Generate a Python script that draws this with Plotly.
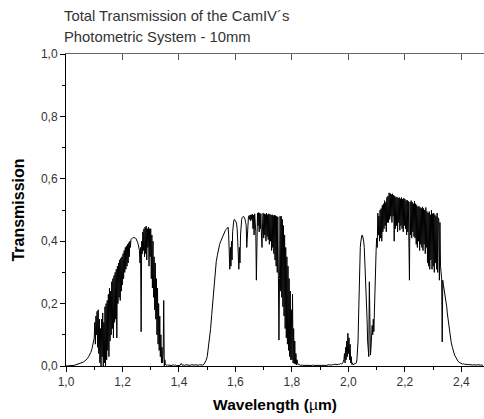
import numpy as np
import plotly.graph_objects as go

# Each segment of the measured spectrum: start wavelength (µm), sampling step (µm), values

# J band rise
seg_j_rise_start, seg_j_rise_step = 1.000, 0.004
seg_j_rise = [
    0.000, 0.000, 0.000, 0.000, 0.001, 0.001, 0.002, 0.002, 0.003, 0.004,
    0.005, 0.006, 0.007, 0.009, 0.010, 0.012, 0.014, 0.017, 0.020, 0.024,
    0.030, 0.036, 0.044, 0.055, 0.070,
]

# J band, noisy part
seg_j_start, seg_j_step = 1.100, 0.002
seg_j = [
    0.090, 0.140, 0.070, 0.160, 0.100, 0.175, 0.060, 0.180, 0.040, 0.150,
    0.010, 0.120, 0.000, 0.150, 0.030, 0.170, 0.000, 0.140, 0.010, 0.190,
    0.000, 0.200, 0.020, 0.210, 0.050, 0.230, 0.030, 0.250, 0.080, 0.240,
    0.100, 0.270, 0.120, 0.280, 0.090, 0.290, 0.140, 0.300, 0.150, 0.310,
    0.090, 0.320, 0.200, 0.330, 0.220, 0.340, 0.210, 0.345, 0.240, 0.350,
    0.260, 0.360, 0.280, 0.370, 0.300, 0.380, 0.310, 0.385, 0.320, 0.390,
    0.330, 0.395, 0.350, 0.400, 0.380, 0.405, 0.408, 0.410, 0.411, 0.412,
    0.412, 0.412, 0.411, 0.410, 0.408, 0.405, 0.400, 0.395, 0.388, 0.380,
    0.370, 0.330, 0.380, 0.110, 0.400, 0.360, 0.430, 0.370, 0.440, 0.350,
    0.445, 0.360, 0.448, 0.340, 0.440, 0.380, 0.445, 0.320, 0.440, 0.350,
    0.440, 0.280, 0.420, 0.250, 0.400, 0.220, 0.350, 0.180, 0.330, 0.150,
    0.280, 0.100, 0.250, 0.070, 0.200, 0.050, 0.160, 0.030, 0.100, 0.010,
    0.060, 0.010, 0.040, 0.210, 0.000, 0.020, 0.005, 0.003, 0.004, 0.002,
]

# gap between J and H
seg_gap1_start, seg_gap1_step = 1.360, 0.004
seg_gap1 = [
    0.004, 0.002, 0.003, 0.001, 0.002, 0.004, 0.002, 0.003, 0.001, 0.002,
    0.003, 0.002, 0.008, 0.002, 0.003, 0.002, 0.004, 0.003, 0.002, 0.003,
    0.002, 0.004, 0.003, 0.002, 0.003, 0.004, 0.003, 0.002, 0.004, 0.003,
]

# H band rise
seg_h_rise_start, seg_h_rise_step = 1.480, 0.004
seg_h_rise = [
    0.002, 0.003, 0.005, 0.010, 0.018, 0.030, 0.055, 0.085, 0.120, 0.165,
    0.210, 0.260, 0.300, 0.335, 0.355, 0.375, 0.390, 0.400, 0.410, 0.420,
]

# H band, noisy part
seg_h_start, seg_h_step = 1.560, 0.002
seg_h = [
    0.430, 0.432, 0.434, 0.437, 0.440, 0.442, 0.444, 0.445, 0.420, 0.360,
    0.310, 0.380, 0.320, 0.400, 0.340, 0.430, 0.455, 0.465, 0.470, 0.468,
    0.466, 0.462, 0.455, 0.440, 0.400, 0.360, 0.310, 0.380, 0.330, 0.420,
    0.460, 0.470, 0.476, 0.478, 0.480, 0.478, 0.475, 0.470, 0.460, 0.450,
    0.380, 0.420, 0.460, 0.478, 0.482, 0.470, 0.484, 0.465, 0.485, 0.470,
    0.486, 0.440, 0.484, 0.420, 0.488, 0.450, 0.430, 0.275, 0.470, 0.490,
    0.450, 0.492, 0.430, 0.490, 0.440, 0.488, 0.420, 0.380, 0.460, 0.490,
    0.410, 0.488, 0.420, 0.486, 0.400, 0.490, 0.415, 0.485, 0.405, 0.488,
    0.390, 0.486, 0.400, 0.484, 0.370, 0.485, 0.380, 0.482, 0.360, 0.484,
    0.340, 0.482, 0.320, 0.480, 0.300, 0.478, 0.290, 0.083, 0.280, 0.480,
    0.240, 0.480, 0.220, 0.470, 0.190, 0.450, 0.160, 0.420, 0.120, 0.380,
    0.090, 0.350, 0.070, 0.320, 0.050, 0.280, 0.030, 0.240, 0.020, 0.180,
    0.020, 0.230, 0.010, 0.120, 0.008, 0.080, 0.006, 0.040, 0.004, 0.020,
    0.010, 0.004, 0.006, 0.003, 0.004, 0.002, 0.003, 0.002, 0.003, 0.002,
]

# gap between H and K
seg_gap2_start, seg_gap2_step = 1.840, 0.004
seg_gap2 = [
    0.002, 0.003, 0.002, 0.004, 0.002, 0.003, 0.002, 0.001, 0.003, 0.002,
    0.002, 0.003, 0.002, 0.001, 0.002, 0.003, 0.002, 0.002, 0.003, 0.002,
    0.003, 0.002, 0.004, 0.003, 0.002, 0.003, 0.005, 0.004, 0.006, 0.005,
    0.004, 0.006, 0.005, 0.008, 0.006,
]

# K band, noisy part
seg_k_start, seg_k_step = 1.980, 0.002
seg_k = [
    0.010, 0.015, 0.020, 0.040, 0.010, 0.060, 0.020, 0.080, 0.030, 0.105,
    0.040, 0.090, 0.020, 0.070, 0.010, 0.030, 0.005, 0.010, 0.004, 0.005,
    0.004, 0.005, 0.006, 0.008, 0.010, 0.020, 0.040, 0.080, 0.160, 0.250,
    0.330, 0.380, 0.400, 0.415, 0.420, 0.418, 0.410, 0.400, 0.380, 0.340,
    0.300, 0.260, 0.200, 0.150, 0.080, 0.040, 0.030, 0.270, 0.050, 0.035,
    0.060, 0.090, 0.130, 0.100, 0.150, 0.110, 0.200, 0.275, 0.300, 0.370,
    0.410, 0.380, 0.490, 0.420, 0.480, 0.400, 0.500, 0.410, 0.505, 0.400,
    0.515, 0.430, 0.520, 0.440, 0.530, 0.450, 0.525, 0.430, 0.540, 0.460,
    0.545, 0.460, 0.555, 0.470, 0.553, 0.480, 0.550, 0.460, 0.552, 0.480,
    0.548, 0.400, 0.545, 0.440, 0.540, 0.450, 0.542, 0.430, 0.538, 0.460,
    0.540, 0.435, 0.536, 0.450, 0.540, 0.440, 0.535, 0.430, 0.538, 0.450,
    0.535, 0.440, 0.530, 0.420, 0.532, 0.430, 0.528, 0.410, 0.275, 0.525,
    0.420, 0.530, 0.410, 0.525, 0.430, 0.520, 0.415, 0.528, 0.410, 0.520,
    0.390, 0.515, 0.380, 0.510, 0.400, 0.512, 0.370, 0.508, 0.390, 0.505,
    0.380, 0.510, 0.370, 0.505, 0.390, 0.500, 0.360, 0.508, 0.380, 0.495,
    0.330, 0.490, 0.320, 0.495, 0.310, 0.485, 0.340, 0.500, 0.310, 0.488,
    0.320, 0.490, 0.300, 0.485, 0.330, 0.480, 0.310, 0.490, 0.300, 0.475,
    0.470, 0.275, 0.460, 0.320, 0.300, 0.280, 0.077, 0.275, 0.260, 0.250,
    0.240, 0.230, 0.220, 0.200, 0.190, 0.170, 0.155, 0.140, 0.125, 0.115,
]

# K band tail
seg_k_tail_start, seg_k_tail_step = 2.360, 0.004
seg_k_tail = [
    0.095, 0.075, 0.060, 0.045, 0.035, 0.028, 0.020, 0.015, 0.012, 0.010,
    0.008, 0.006, 0.007, 0.005, 0.006, 0.004, 0.005, 0.004, 0.003, 0.004,
    0.003, 0.004, 0.003, 0.003, 0.004, 0.003, 0.002, 0.003, 0.003, 0.002,
]

x_ticks = [1.0, 1.2, 1.4, 1.6, 1.8, 2.0, 2.2, 2.4]
x_labels = ["1,0", "1,2", "1,4", "1,6", "1,8", "2,0", "2,2", "2,4"]
y_ticks = [0.0, 0.2, 0.4, 0.6, 0.8, 1.0]
y_labels = ["0,0", "0,2", "0,4", "0,6", "0,8", "1,0"]

segments = [
    (seg_j_rise_start, seg_j_rise_step, seg_j_rise),
    (seg_j_start, seg_j_step, seg_j),
    (seg_gap1_start, seg_gap1_step, seg_gap1),
    (seg_h_rise_start, seg_h_rise_step, seg_h_rise),
    (seg_h_start, seg_h_step, seg_h),
    (seg_gap2_start, seg_gap2_step, seg_gap2),
    (seg_k_start, seg_k_step, seg_k),
    (seg_k_tail_start, seg_k_tail_step, seg_k_tail),
]
wl, tr = [], []
for start, step, vals in segments:
    wl.extend(start + step * np.arange(len(vals)))
    tr.extend(vals)

fig = go.Figure()
fig.add_trace(go.Scatter(x=wl, y=tr, mode="lines",
                         line=dict(color="black", width=1), showlegend=False))
# invisible trace carrying the top axis
fig.add_trace(go.Scatter(x=[1.0], y=[0], xaxis="x2", mode="markers",
                         marker=dict(opacity=0), showlegend=False, hoverinfo="skip"))

FONT = "Liberation Sans, Arial, sans-serif"
tickfont = dict(family=FONT, size=12, color="#333")
fig.update_layout(
    width=484, height=419,
    margin=dict(l=66, r=0, t=54, b=53, autoexpand=False),
    paper_bgcolor="white", plot_bgcolor="white",
    xaxis=dict(range=[1.0, 2.48], tickvals=x_ticks, ticktext=x_labels,
               ticks="outside", ticklen=5, tickwidth=1, tickcolor="black",
               minor=dict(dtick=0.1, tick0=1.0, ticks="outside", ticklen=3,
                          tickcolor="black", showgrid=False),
               showline=True, linecolor="black", linewidth=1, automargin=False,
               showgrid=False, zeroline=False, tickfont=tickfont,
               title=dict(text="<b>Wavelength (</b>µ<b>m)</b>",
                          font=dict(family=FONT, size=15.5, color="black"), standoff=10)),
    xaxis2=dict(range=[1.0, 2.48], overlaying="x", side="top",
                tickvals=x_ticks, showticklabels=False, automargin=False,
                ticks="inside", ticklen=6, tickcolor="#555",
                showline=True, linecolor="#666", linewidth=1,
                showgrid=False, zeroline=False),
    yaxis=dict(range=[0, 1.0], tickvals=y_ticks, ticktext=y_labels,
               ticks="outside", ticklen=5, tickwidth=1, tickcolor="black",
               minor=dict(dtick=0.1, tick0=0, ticks="outside", ticklen=3,
                          tickcolor="black", showgrid=False),
               showline=True, linecolor="black", linewidth=1, automargin=False,
               showgrid=False, zeroline=False, tickfont=tickfont,
               title=dict(text="<b>Transmission</b>",
                          font=dict(family=FONT, size=16, color="black"), standoff=12)),
    annotations=[
        dict(text="Total Transmission of the CamIV´s", xref="paper", yref="paper",
             x=-4 / 418, y=1 + 38 / 312, xanchor="left", yanchor="middle",
             showarrow=False, font=dict(family=FONT, size=14.8, color="#333")),
        dict(text="Photometric System - 10mm", xref="paper", yref="paper",
             x=-4 / 418, y=1 + 17 / 312, xanchor="left", yanchor="middle",
             showarrow=False, font=dict(family=FONT, size=14.8, color="#333")),
    ],
)

fig.write_html(
    "out.html",
    config={"displayModeBar": False},
    post_script="document.body.style.margin='0';document.body.style.overflow='hidden';",
)
